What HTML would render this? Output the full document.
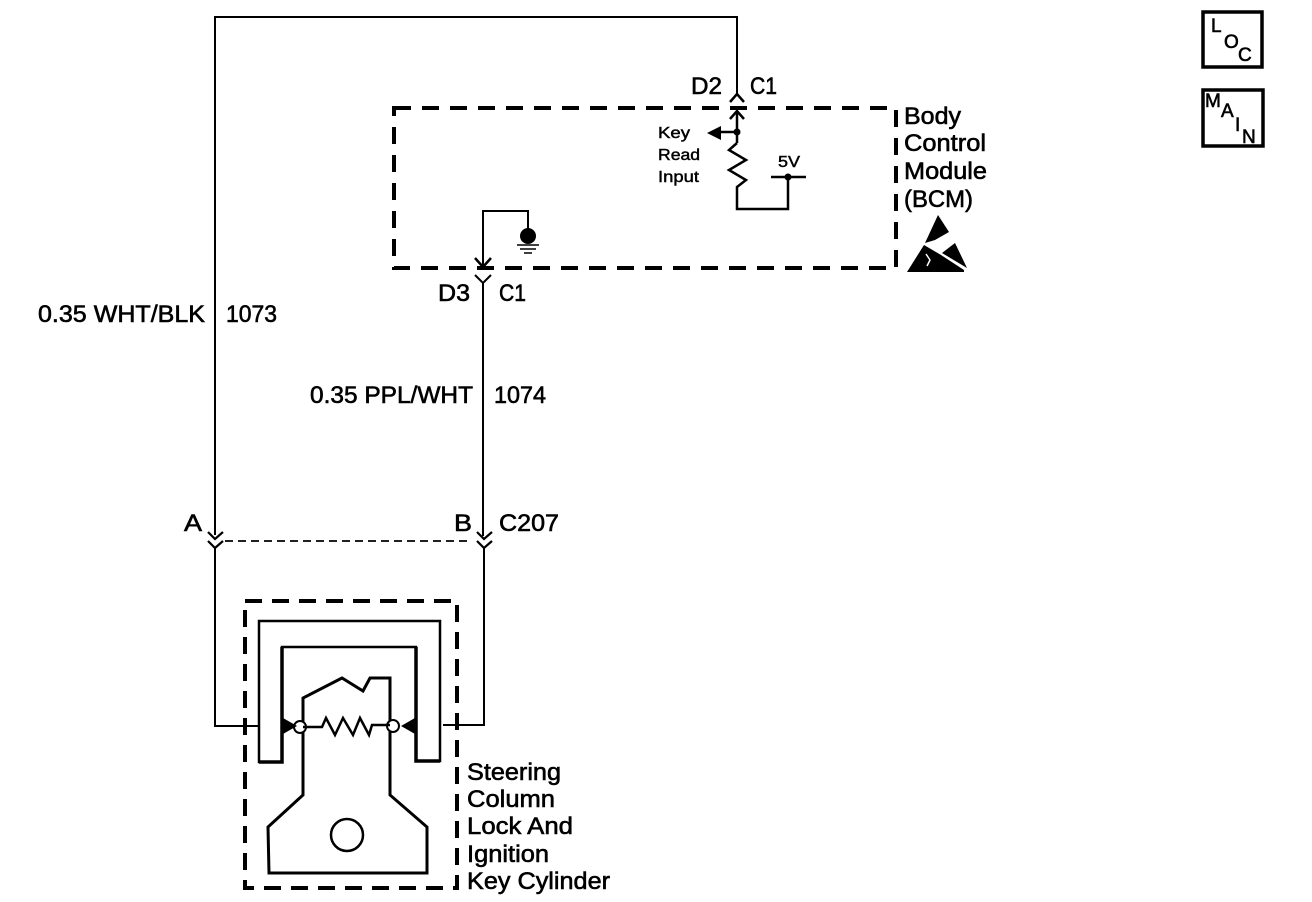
<!DOCTYPE html>
<html><head><meta charset="utf-8"><style>
html,body{margin:0;padding:0;background:#fff}
svg{display:block}
text{font-family:"Liberation Sans",sans-serif;fill:#000;stroke:#000;stroke-width:.6px;font-size:24px}
.s{font-size:16px;stroke-width:.45px}
.b{font-size:19px;stroke-width:.6px}
</style></head><body>
<svg width="1312" height="902" viewBox="0 0 1312 902" xmlns="http://www.w3.org/2000/svg">
<g fill="none" stroke="#000" stroke-linejoin="miter">
<!-- wires -->
<path d="M215 535V17H737V95" stroke-width="2"/>
<path d="M730 102L737 94L744 102" stroke-width="2.5"/>
<path d="M737 112V143" stroke-width="2.5"/>
<path d="M730 119L737 111L744 119" stroke-width="2.5"/>
<path d="M737 132H718" stroke-width="2.5"/>
<path d="M737 143L729 150L746 160L729 170L746 180L737 187V209H788V177" stroke-width="2.5"/>
<path d="M771 177H806" stroke-width="2.5"/>
<path d="M483 268V211H528V230" stroke-width="2"/>
<path d="M475 258L483 267L491 258" stroke-width="2.5"/>
<path d="M475 275L483 283L491 275" stroke-width="2"/>
<path d="M483 283V536" stroke-width="2"/>
<path d="M208 532L215 539L223 532M208 541L215 548L223 541" stroke-width="2.2"/>
<path d="M477 532L484 539L492 532M477 541L484 548L492 541" stroke-width="2.2"/>
<path d="M225 541H472" stroke-width="1.7" stroke-dasharray="8 5"/>
<path d="M215 547V726H259" stroke-width="2"/>
<path d="M484 547V725H443" stroke-width="2"/>
<!-- dashed boxes -->
<rect x="394" y="108" width="502" height="160" stroke-width="4" stroke-dasharray="17 11"/>
<rect x="245" y="601" width="212" height="287" stroke-width="4" stroke-dasharray="17 10"/>
<!-- cylinder housing -->
<path d="M259 762V621H440V761H416V647H282V762Z" stroke-width="2.5"/>
<path d="M282 647V762H259M416 647V761H440" stroke-width="3.5"/>
<!-- key -->
<path d="M303 795V698L342 678L363 691L370 678H390V795L427 827V873H269L268 827Z" stroke-width="3"/>
<circle cx="347" cy="835" r="16" stroke-width="2.5"/>
<circle cx="300" cy="727" r="6" fill="#fff" stroke-width="2"/>
<circle cx="393" cy="726" r="6" fill="#fff" stroke-width="2"/>
<path d="M303 727H322L326 718L335 735L343 718L353 735L360 718L369 735L372 725H390" stroke-width="2.5"/>
<!-- ground -->
<path d="M517 245H539M520 249H536M524 253H532" stroke-width="1.5"/>
</g>
<g fill="#000">
<circle cx="737" cy="132" r="3.5"/>
<circle cx="788" cy="177" r="3.5"/>
<path d="M707 133L721 126V140Z"/>
<circle cx="528" cy="236" r="8"/>
<path d="M283 718V734L297 726Z"/>
<path d="M415 718V734L401 726Z"/>
<!-- ESD -->
<path d="M938 215L949 232L935 240L925 243Z"/>
<path d="M907 272L924 245L941 255L964 270V272Z"/>
<path d="M955 243L967 268L942 253Z"/>
</g>
<path d="M926 254L930 260L927 266" fill="none" stroke="#fff" stroke-width="1.5"/>
<!-- LOC / MAIN boxes -->
<rect x="1203" y="12" width="59" height="55" fill="none" stroke="#000" stroke-width="3.5"/>
<rect x="1203" y="90" width="60" height="56" fill="none" stroke="#000" stroke-width="3.5"/>
<text class="b" x="1211" y="32">L</text>
<text class="b" x="1224" y="48">O</text>
<text class="b" x="1238" y="61">C</text>
<text class="b" x="1205" y="107">M</text>
<text class="b" x="1221" y="117">A</text>
<text class="b" x="1235" y="131">I</text>
<text class="b" x="1242" y="143">N</text>
<!-- labels -->
<text x="691" y="94" textLength="31" lengthAdjust="spacingAndGlyphs">D2</text>
<text x="750" y="94" textLength="27" lengthAdjust="spacingAndGlyphs">C1</text>
<text class="s" x="658" y="138" textLength="32" lengthAdjust="spacingAndGlyphs">Key</text>
<text class="s" x="658" y="160" textLength="42" lengthAdjust="spacingAndGlyphs">Read</text>
<text class="s" x="658" y="182" textLength="41" lengthAdjust="spacingAndGlyphs">Input</text>
<text class="s" x="778" y="167" textLength="22" lengthAdjust="spacingAndGlyphs">5V</text>
<text x="904" y="124" textLength="57" lengthAdjust="spacingAndGlyphs">Body</text>
<text x="904" y="151" textLength="82" lengthAdjust="spacingAndGlyphs">Control</text>
<text x="904" y="179" textLength="83" lengthAdjust="spacingAndGlyphs">Module</text>
<text x="904" y="207" textLength="69" lengthAdjust="spacingAndGlyphs">(BCM)</text>
<text x="438" y="301" textLength="32" lengthAdjust="spacingAndGlyphs">D3</text>
<text x="499" y="301" textLength="27" lengthAdjust="spacingAndGlyphs">C1</text>
<text x="38" y="322" textLength="167" lengthAdjust="spacingAndGlyphs">0.35 WHT/BLK</text>
<text x="226" y="322" textLength="51" lengthAdjust="spacingAndGlyphs">1073</text>
<text x="310" y="403" textLength="163" lengthAdjust="spacingAndGlyphs">0.35 PPL/WHT</text>
<text x="494" y="403" textLength="52" lengthAdjust="spacingAndGlyphs">1074</text>
<text x="184" y="531" textLength="18" lengthAdjust="spacingAndGlyphs">A</text>
<text x="454" y="531" textLength="18" lengthAdjust="spacingAndGlyphs">B</text>
<text x="499" y="531" textLength="60" lengthAdjust="spacingAndGlyphs">C207</text>
<text x="467" y="780" textLength="94" lengthAdjust="spacingAndGlyphs">Steering</text>
<text x="467" y="807" textLength="88" lengthAdjust="spacingAndGlyphs">Column</text>
<text x="467" y="834" textLength="106" lengthAdjust="spacingAndGlyphs">Lock And</text>
<text x="467" y="862" textLength="82" lengthAdjust="spacingAndGlyphs">Ignition</text>
<text x="467" y="889" textLength="143" lengthAdjust="spacingAndGlyphs">Key Cylinder</text>
</svg>
</body></html>
